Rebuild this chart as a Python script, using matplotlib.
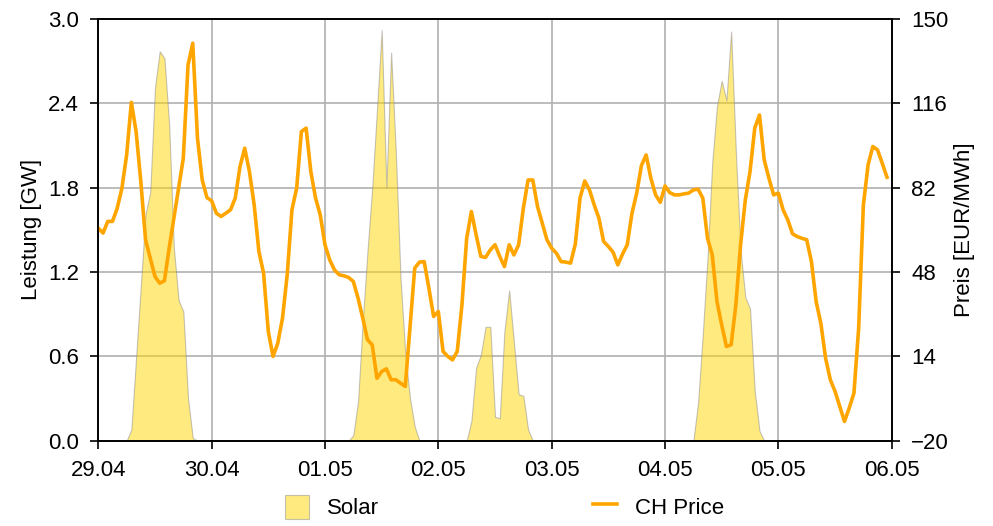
import pandas as pd
import matplotlib
matplotlib.use("Agg")
import matplotlib.pyplot as plt
import matplotlib.dates as mdates

plt.rcParams['font.family'] = ['Liberation Sans', 'DejaVu Sans']
plt.rcParams['font.size'] = 16

# Stundenwerte 29.04. 00:00 bis 05.05. 23:00
zeit = pd.date_range('2024-04-29 00:00', periods=168, freq='h')

# Solar [GW], je Tag 24 Werte
solar_tag0 = [0, 0, 0, 0, 0, 0, 0, 0.08, 0.59, 1.1, 1.61, 1.77,
              2.51, 2.77, 2.72, 2.25, 1.37, 1.0, 0.92, 0.30, 0.02, 0, 0, 0]
solar_tag1 = [0] * 24
solar_tag2 = [0, 0, 0, 0, 0, 0, 0.04, 0.28, 0.85, 1.35, 1.8, 2.35,
              2.92, 1.8, 2.76, 2.05, 1.15, 0.62, 0.3, 0.1, 0, 0, 0, 0]
solar_tag3 = [0, 0, 0, 0, 0, 0, 0, 0.14, 0.52, 0.61, 0.81, 0.81,
              0.17, 0.16, 0.78, 1.07, 0.70, 0.33, 0.32, 0.08, 0, 0, 0, 0]
solar_tag4 = [0] * 24
solar_tag5 = [0, 0, 0, 0, 0, 0, 0, 0.27, 0.76, 1.3, 1.98, 2.38,
              2.56, 2.42, 2.91, 2.05, 1.35, 1.02, 0.94, 0.35, 0.07, 0, 0, 0]
solar_tag6 = [0] * 24
solar = (solar_tag0 + solar_tag1 + solar_tag2 + solar_tag3
         + solar_tag4 + solar_tag5 + solar_tag6)

# CH Preis [EUR/MWh]
preis = [65.7, 63.7, 68.4, 68.4, 73.7, 81.8, 95.2, 116.4, 104.6, 84.5, 61.0, 53.6,
         46.2, 43.5, 44.5, 57.6, 69.7, 81.8, 93.9, 131.5, 140.2, 101.9, 85.1, 78.0,
         76.7, 71.7, 70.4, 71.7, 73.1, 77.8, 90.5, 97.9, 88.5, 75.1, 56.3, 47.5,
         24.0, 14.0, 19.3, 29.4, 46.9, 73.1, 81.8, 104.6, 106.0, 88.5, 77.8, 71.0,
         59.0, 52.9, 48.9, 46.9, 46.5, 45.8, 44.2, 37.5, 29.4, 20.7, 18.7, 5.2,
         7.9, 9.0, 4.6, 4.6, 3.2, 1.9, 25.8, 49.6, 52.0, 52.2, 41.5, 30.1,
         32.1, 16.0, 14.0, 12.6, 16.0, 34.8, 61.6, 72.4, 63.0, 54.3, 53.9, 56.9,
         59.0, 54.3, 50.2, 59.0, 54.9, 59.0, 73.7, 85.1, 85.1, 74.4, 67.7, 61.0,
         57.6, 55.6, 52.2, 52.0, 51.6, 59.2, 77.8, 84.7, 81.1, 75.1, 69.7, 60.3,
         58.3, 56.0, 50.9, 55.2, 59.0, 71.7, 79.8, 90.9, 95.2, 85.8, 79.1, 76.1,
         82.7, 80.0, 79.1, 79.1, 79.5, 79.8, 81.1, 81.4, 77.8, 61.6, 54.9, 36.1,
         26.7, 18.0, 18.7, 34.8, 59.0, 77.1, 88.5, 106.0, 111.3, 93.2, 85.8, 79.1,
         79.8, 73.1, 69.0, 63.4, 62.3, 61.6, 61.0, 52.2, 36.1, 27.3, 13.3, 4.6,
         -0.1, -6.2, -12.2, -6.8, -0.8, 25.4, 75.1, 91.2, 98.6, 97.2, 91.8, 86.2]

links_ticks = [0.0, 0.6, 1.2, 1.8, 2.4, 3.0]
rechts_ticks = [-20, 14, 48, 82, 116, 150]

fig, ax = plt.subplots(figsize=(9.93, 5.26), dpi=100)
fig.subplots_adjust(left=0.099, right=0.898, top=0.964, bottom=0.162)

ax.fill_between(zeit, solar, 0, facecolor=(1.0, 0.84, 0.0, 0.5),
                edgecolor=(0.55, 0.55, 0.55, 0.5), linewidth=0.8, label='Solar')
ax.set_ylim(0, 3.0)
ax.set_yticks(links_ticks)
ax.yaxis.set_major_formatter(matplotlib.ticker.FormatStrFormatter('%.1f'))
ax.set_ylabel('Leistung [GW]')
ax.set_xlim(pd.Timestamp('2024-04-29'), pd.Timestamp('2024-05-06'))
ax.xaxis.set_major_locator(mdates.DayLocator())
ax.xaxis.set_major_formatter(mdates.DateFormatter('%d.%m'))
ax.grid(True, color='#b0b0b0', linewidth=1.2)
ax.set_axisbelow(True)
ax.tick_params(length=6, width=1.2, pad=8)

ax2 = ax.twinx()
ax2.plot(zeit, preis, color='orange', linewidth=2.6, label='CH Price')
ax2.set_ylim(-20, 150)
ax2.set_yticks(rechts_ticks)
ax2.set_ylabel('Preis [EUR/MWh]')
ax2.tick_params(length=6, width=1.2, pad=8)

for a in (ax, ax2):
    for s in a.spines.values():
        s.set_linewidth(1.2)

h1, l1 = ax.get_legend_handles_labels()
h2, l2 = ax2.get_legend_handles_labels()
fig.legend(h1 + h2, l1 + l2, loc='lower center', bbox_to_anchor=(0.508, -0.025),
           ncol=2, frameon=False, columnspacing=9.6, handlelength=1.1, handleheight=1.3)

fig.savefig('out.png', dpi=100)
